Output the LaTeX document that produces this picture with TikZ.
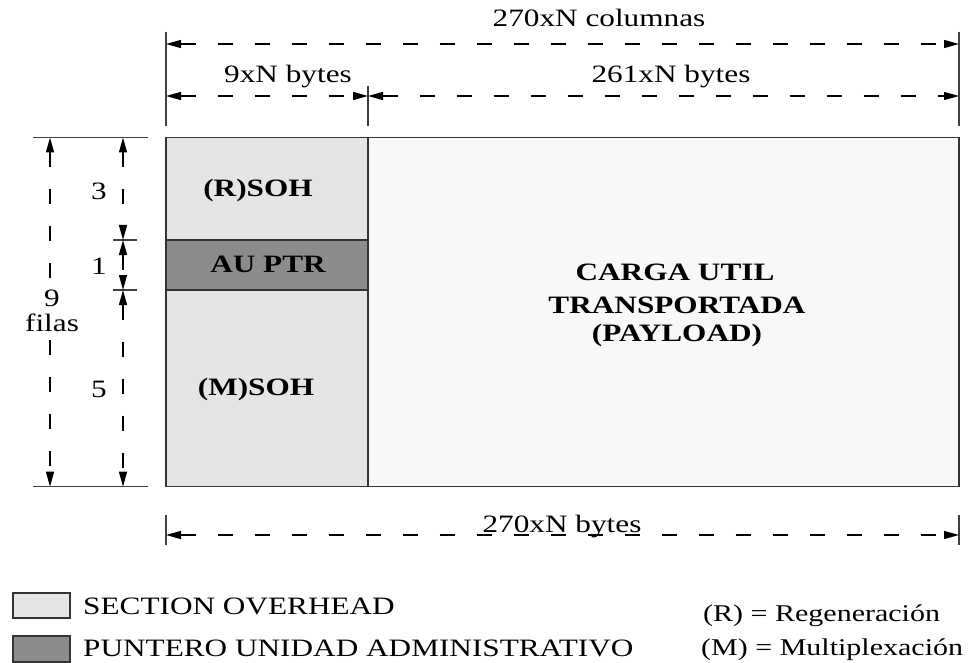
\documentclass[tikz,border=0pt]{standalone}
\usepackage{fontspec}
\setmainfont{Liberation Serif}[FakeStretch=1.25]
\usepackage{tikz}
\usetikzlibrary{arrows.meta}

\definecolor{sohgray}{HTML}{E5E5E5}
\definecolor{ptrgray}{HTML}{8C8C8C}
\definecolor{loadgray}{HTML}{F8F8F8}
\definecolor{framegray}{HTML}{333333}

\begin{document}
\begin{tikzpicture}[x=1pt,y=-1pt,>={Triangle[length=15pt,width=8pt]},
		dimline/.style={dash pattern=on 15pt off 22pt,line width=1.3pt},
		tick/.style={line width=1.3pt,draw=black!75},
		frame/.style={draw=framegray,line width=1.5pt},
		lbl/.style={inner sep=0pt,font=\fontsize{25}{30}\selectfont},
		keylbl/.style={inner sep=0pt,font=\fontsize{24}{29}\selectfont},
		blbl/.style={inner sep=0pt,font=\fontsize{25}{30}\selectfont\bfseries}]
		\useasboundingbox (0,0) rectangle (969,663);
		
		% frame
		\draw[frame,fill=loadgray] (368,137.5) rectangle (959,486.7);
		\draw[frame,fill=sohgray] (166,137.5) rectangle (368,486.7);
		\draw[frame,fill=ptrgray] (166,240) rectangle (368,290);
		
		\node[blbl,anchor=base] (rsoh) at (258,197) {(R)SOH};
		\node[blbl,anchor=base] (auptr) at (268,272) {AU PTR};
		\node[blbl,anchor=base] (msoh) at (256,395) {(M)SOH};
		\node[blbl,anchor=base] (carga) at (675,280) {CARGA UTIL};
		\node[blbl,anchor=base] (transp) at (677,313) {TRANSPORTADA};
		\node[blbl,anchor=base] (payload) at (677,341) {(PAYLOAD)};
		
		% top dimensions
		\draw[tick] (166,32) -- (166,126);
		\draw[tick] (959,32) -- (959,126);
		\draw[tick] (368,86) -- (368,126);
		\coordinate (tl) at (166,44);
		\coordinate (tr) at (959,44);
		\coordinate (ml) at (166,96);
		\coordinate (mm) at (368,96);
		\coordinate (mr) at (959,96);
		\draw[dimline,<->] (tl) -- (tr);
		\draw[dimline,<->] (ml) -- (mm);
		\draw[dimline,<->] (mm) -- (mr);
		\node[lbl,anchor=base] (cols) at (599,27) {270xN columnas};
		\node[lbl,anchor=base] (soh bytes) at (288,83) {9xN bytes};
		\node[lbl,anchor=base] (load bytes) at (671,83) {261xN bytes};
		
		% left dimensions
		\draw[tick] (33,137.5) -- (148,137.5);
		\draw[tick] (33,486.7) -- (148,486.7);
		\draw[tick] (113,240) -- (137,240);
		\draw[tick] (113,290) -- (137,290);
		\draw[dimline,<-] (50,137.5) -- (50,285);
		\draw[dimline,->] (50,340) -- (50,486.7);
		\draw[dimline,<->] (123,137.5) -- (123,240);
		\draw[dimline,<->] (123,240) -- (123,290);
		\draw[dimline,<->] (123,290) -- (123,486.7);
		\node[lbl,anchor=base] (three) at (99,200) {3};
		\node[lbl,anchor=base] (one) at (99,274) {1};
		\node[lbl,anchor=base] (nine) at (52,306) {9};
		\node[lbl,anchor=base] (filas) at (52,331) {filas};
		\node[lbl,anchor=base] (five) at (99,397) {5};
		
		% bottom dimension
		\draw[tick] (166,515) -- (166,545);
		\draw[tick] (959,515) -- (959,545);
		\coordinate (bl) at (166,535);
		\coordinate (br) at (959,535);
		\draw[dimline,<->] (bl) -- (br);
		\node[lbl,anchor=base] (bytes) at (562,532) {270xN bytes};
		
		% legend
		\draw[frame,fill=sohgray] (13,593) rectangle (70,618);
		\draw[frame,fill=ptrgray] (13,636) rectangle (70,662);
		\node[lbl,anchor=base west] (leg soh) at (83,614) {SECTION OVERHEAD};
		\node[lbl,anchor=base west] (leg ptr) at (83,656) {PUNTERO UNIDAD ADMINISTRATIVO};
		\node[keylbl,anchor=base west] (leg r) at (703,621) {(R) = Regeneración};
		\node[keylbl,anchor=base west] (leg m) at (701,655) {(M) = Multiplexación};
	\end{tikzpicture}
\end{document}
